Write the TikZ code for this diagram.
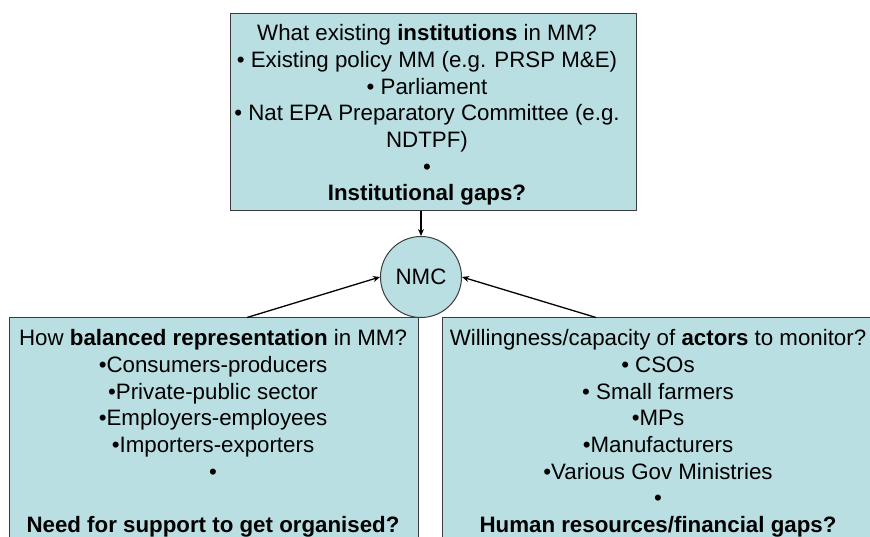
\documentclass[tikz,border=0pt]{standalone}
\usepackage{fontspec}
\setmainfont{Liberation Sans}
\usetikzlibrary{arrows.meta}
\definecolor{boxfill}{RGB}{185,223,227}
\definecolor{boxline}{RGB}{60,60,60}

\begin{document}
\begin{tikzpicture}[x=1pt, y=-1pt,
  box/.style={draw=boxline, line width=1pt, fill=boxfill, inner sep=0pt},
  txt/.style={align=center, inner sep=0pt, font=\fontsize{22.3}{26.7}\selectfont},
  link/.style={line width=1.3pt, -{Stealth[length=7pt, width=6pt]}}]
  \useasboundingbox (0,0) rectangle (870,537);

  % boxes
  \node[box, minimum width=406pt, minimum height=197pt] (inst) at (433,112.5) {};
  \node[box, minimum width=409pt, minimum height=227pt] (repr) at (213.5,431.5) {};
  \node[box, minimum width=432pt, minimum height=227pt] (actr) at (658,431.5) {};

  % centre circle
  \node[box, circle, minimum size=81pt, txt] (nmc) at (421,277) {NMC};

  % texts
  \node[txt] (instq) at (427,115) {What existing \textbf{institutions} in MM?\\
    • Existing policy MM (e.g. PRSP M\&E)\\
    • Parliament\\
    • Nat EPA Preparatory Committee (e.g.\\
    NDTPF)\\
    •\\
    \textbf{Institutional gaps?}};
  \node[txt] (reprq) at (213,433.5) {How \textbf{balanced representation} in MM?\\
    •Consumers-producers\\
    •Private-public sector\\
    •Employers-employees\\
    •Importers-exporters\\
    •\\[26.7pt]
    \textbf{Need for support to get organised?}};
  \node[txt] (actrq) at (658,433.5) {Willingness/capacity of \textbf{actors} to monitor?\\
    • CSOs\\
    • Small farmers\\
    •MPs\\
    •Manufacturers\\
    •Various Gov Ministries\\
    •\\
    \textbf{Human resources/financial gaps?}};

  % arrows into NMC
  \draw[link] (nmc.north |- inst.south) -- (nmc.north);
  \draw[link] ([xshift=33.5pt]repr.north) -- (nmc.west);
  \draw[link] ([xshift=-62pt]actr.north) -- (nmc.east);
\end{tikzpicture}
\end{document}
